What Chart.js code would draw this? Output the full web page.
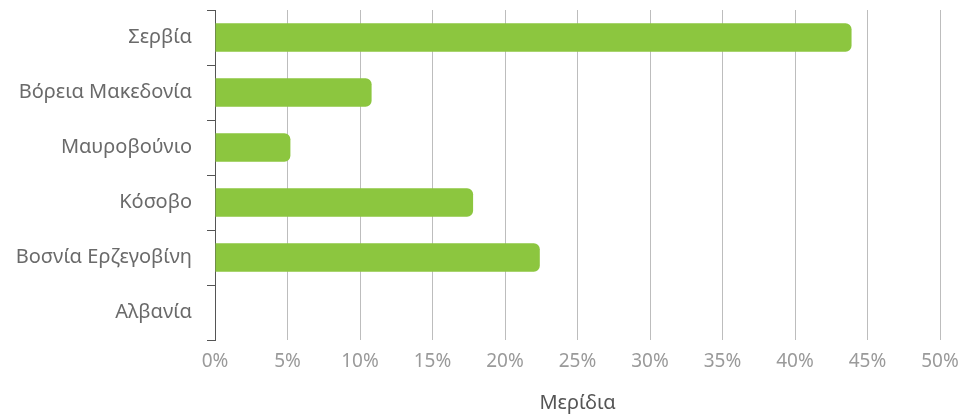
<!DOCTYPE html>
<html>
<head>
<meta charset="utf-8">
<script src="https://cdn.jsdelivr.net/npm/chart.js@4"></script>
<style>
  html, body { margin: 0; padding: 0; background: #fff; }
  #wrap { width: 961px; height: 416px; position: relative; }
</style>
</head>
<body>
<div id="wrap"><canvas id="myChart"></canvas></div>
<script>
const countries = ["Σερβία", "Βόρεια Μακεδονία", "Μαυροβούνιο", "Κόσοβο", "Βοσνία Ερζεγοβίνη", "Αλβανία"];
const shares = [43.9, 10.8, 5.2, 17.8, 22.4, 0];
const xTicks = [0, 5, 10, 15, 20, 25, 30, 35, 40, 45, 50];

const ctx = document.getElementById("myChart").getContext("2d");

new Chart(ctx, {
    type: "bar",
    data: {
        labels: countries,
        datasets: [{
            data: shares,
            backgroundColor: "#8cc63f",
            borderRadius: 6,
            borderSkipped: "start",
            barPercentage: 0.52,
            categoryPercentage: 1
        }]
    },
    options: {
        indexAxis: "y",
        responsive: true,
        maintainAspectRatio: false,
        animation: false,
        layout: { padding: { top: 10, right: 21, left: 0, bottom: 0 } },
        plugins: { legend: { display: false }, tooltip: { enabled: false } },
        scales: {
            x: {
                min: 0,
                max: 50,
                afterBuildTicks: s => { s.ticks = xTicks.map(v => ({ value: v })); },
                afterFit: s => { s.height = 76; s.paddingLeft = 0; s.paddingRight = 0; },
                border: { display: false },
                grid: { color: "#bdbdbd", lineWidth: 1, drawTicks: false },
                ticks: {
                    padding: 10,
                    color: "#9a9a9a",
                    font: { family: "Noto Sans", size: 19 },
                    callback: v => v + "%"
                },
                title: {
                    display: true,
                    text: "Μερίδια",
                    color: "#555",
                    font: { family: "Noto Sans", size: 20 },
                    padding: { top: 14, bottom: 1 }
                }
            },
            y: {
                afterFit: s => { s.width = 215; s.paddingTop = 0; s.paddingBottom = 0; },
                border: { display: true, color: "#555", width: 1 },
                grid: { drawOnChartArea: false, drawTicks: true, tickLength: 8, color: "#555", offset: true },
                ticks: {
                    padding: 15,
                    color: "#6a6a6a",
                    font: { family: "Noto Sans", size: 20 }
                }
            }
        }
    }
});
</script>
</body>
</html>
